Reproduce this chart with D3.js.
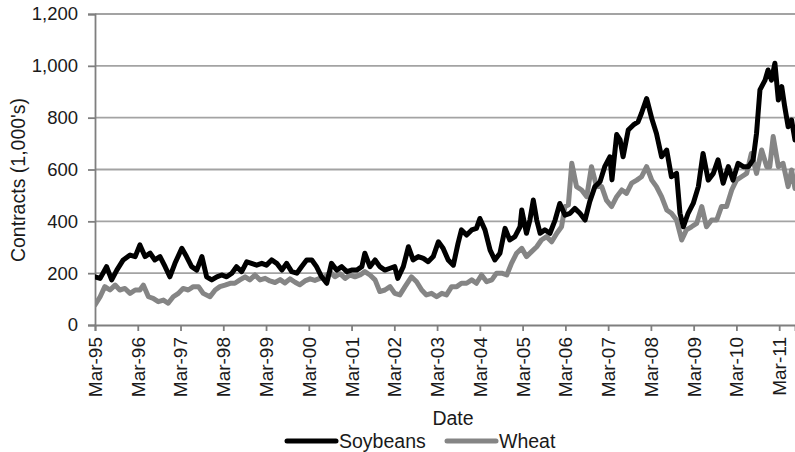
<!DOCTYPE html>
<html>
<head>
<meta charset="utf-8">
<script src="https://cdn.jsdelivr.net/npm/d3@7"></script>
<style>
  html, body { margin: 0; padding: 0; background: #fff; }
  svg { display: block; font-family: "Liberation Sans", Arial, sans-serif; }
</style>
</head>
<body>
<svg id="chart" width="795" height="452"></svg>
<script>
// ---- DATA (decimal year, contracts in 1,000's) ----
const soyDates = [1995.17,1995.29,1995.44,1995.56,1995.68,1995.83,1995.99,1996.11,1996.22,1996.34,1996.46,1996.57,1996.69,1996.81,1996.92,1997.04,1997.20,1997.31,1997.43,1997.55,1997.67,1997.78,1997.90,1998.02,1998.13,1998.25,1998.37,1998.48,1998.60,1998.72,1998.83,1998.95,1999.07,1999.18,1999.30,1999.42,1999.54,1999.65,1999.77,1999.89,2000.00,2000.12,2000.24,2000.35,2000.47,2000.59,2000.70,2000.82,2000.94,2001.06,2001.17,2001.29,2001.41,2001.48,2001.60,2001.72,2001.83,2001.95,2002.07,2002.18,2002.25,2002.38,2002.50,2002.61,2002.73,2002.85,2002.96,2003.08,2003.20,2003.31,2003.43,2003.55,2003.66,2003.74,2003.86,2003.98,2004.09,2004.17,2004.29,2004.41,2004.52,2004.64,2004.76,2004.87,2004.99,2005.11,2005.15,2005.26,2005.34,2005.42,2005.50,2005.58,2005.69,2005.81,2005.93,2006.04,2006.16,2006.28,2006.39,2006.51,2006.63,2006.74,2006.86,2006.98,2007.09,2007.21,2007.26,2007.37,2007.45,2007.52,2007.64,2007.76,2007.87,2007.95,2008.07,2008.19,2008.30,2008.42,2008.54,2008.65,2008.77,2008.85,2008.93,2009.04,2009.16,2009.28,2009.39,2009.51,2009.63,2009.74,2009.86,2009.98,2010.09,2010.21,2010.33,2010.45,2010.56,2010.64,2010.72,2010.84,2010.91,2010.99,2011.07,2011.15,2011.23,2011.30,2011.38,2011.46,2011.54];
const soyValues = [186,180,225,174,212,251,270,264,309,264,277,251,264,225,186,238,296,264,225,212,264,186,174,186,193,186,200,225,206,244,238,231,238,231,251,238,212,238,206,200,225,251,251,225,186,161,238,212,225,206,212,212,225,277,225,251,225,212,219,225,180,225,302,251,264,257,244,264,321,296,251,231,315,367,347,367,373,411,367,289,251,277,373,328,341,379,444,354,405,482,405,354,367,354,405,469,424,431,450,431,405,476,534,553,611,649,560,735,714,649,752,772,784,817,874,797,739,649,675,572,585,431,379,431,469,534,662,559,585,637,547,611,559,624,611,611,637,739,907,945,984,945,1010,868,920,842,765,791,714];

const wheatDates = [1995.17,1995.29,1995.40,1995.52,1995.64,1995.75,1995.87,1995.99,1996.11,1996.22,1996.30,1996.42,1996.53,1996.65,1996.77,1996.88,1997.00,1997.12,1997.23,1997.35,1997.47,1997.59,1997.70,1997.86,1997.98,1998.09,1998.21,1998.33,1998.44,1998.56,1998.68,1998.79,1998.91,1999.03,1999.15,1999.26,1999.38,1999.50,1999.61,1999.73,1999.85,1999.96,2000.08,2000.20,2000.31,2000.43,2000.55,2000.67,2000.78,2000.90,2001.02,2001.13,2001.25,2001.37,2001.48,2001.60,2001.72,2001.83,2001.95,2002.07,2002.18,2002.30,2002.42,2002.57,2002.69,2002.81,2002.92,2003.04,2003.16,2003.28,2003.39,2003.51,2003.63,2003.74,2003.86,2003.98,2004.09,2004.21,2004.33,2004.45,2004.56,2004.68,2004.80,2004.91,2005.03,2005.15,2005.26,2005.38,2005.50,2005.61,2005.73,2005.85,2005.97,2006.08,2006.16,2006.24,2006.32,2006.43,2006.55,2006.67,2006.78,2006.90,2007.02,2007.13,2007.25,2007.37,2007.49,2007.60,2007.72,2007.84,2007.95,2008.07,2008.19,2008.30,2008.42,2008.54,2008.65,2008.77,2008.89,2009.00,2009.12,2009.24,2009.36,2009.47,2009.59,2009.71,2009.82,2009.94,2010.06,2010.17,2010.29,2010.41,2010.52,2010.64,2010.76,2010.88,2010.95,2011.03,2011.15,2011.26,2011.38,2011.46,2011.54];
const wheatValues = [77,109,148,135,154,135,141,122,135,135,154,109,103,90,96,84,109,122,141,135,148,148,122,109,135,148,154,161,161,174,186,174,193,174,180,170,164,175,162,178,165,155,170,178,172,180,186,204,186,198,180,193,186,193,206,193,174,129,135,148,122,116,148,186,167,135,116,122,109,122,116,148,148,161,161,174,161,193,167,174,200,200,193,238,277,296,264,283,302,328,341,321,354,379,457,463,624,534,521,495,611,534,534,482,457,495,521,508,547,559,572,611,559,534,495,444,431,405,328,367,379,392,457,379,405,405,457,457,521,559,572,585,662,585,675,611,611,727,611,624,534,598,527];

const tickYears = [1995.17,1996.17,1997.17,1998.17,1999.17,2000.17,2001.17,2002.17,2003.17,2004.17,2005.17,2006.17,2007.17,2008.17,2009.17,2010.17,2011.17];
const tickLabels = ["Mar-95","Mar-96","Mar-97","Mar-98","Mar-99","Mar-00","Mar-01","Mar-02","Mar-03","Mar-04","Mar-05","Mar-06","Mar-07","Mar-08","Mar-09","Mar-10","Mar-11"];
const yTicks = [0,200,400,600,800,1000,1200];
const seriesNames = ["Soybeans","Wheat"];
const seriesColors = ["#000000","#858585"];

// ---- LAYOUT ----
const svg = d3.select("#chart");
const plotL = 95, plotR = 795, plotT = 14, plotB = 325;

const x = d3.scaleLinear().domain([1995.17, 2011.54]).range([plotL, plotR]);
const y = d3.scaleLinear().domain([0, 1200]).range([plotB, plotT]);

// gridlines
svg.append("g")
  .selectAll("line")
  .data(yTicks.filter(d => d > 0))
  .join("line")
  .attr("x1", plotL).attr("x2", plotR)
  .attr("y1", d => y(d)).attr("y2", d => y(d))
  .attr("stroke", "#a3a3a3").attr("stroke-width", 1.8);

// y axis
const yAxis = svg.append("g")
  .attr("transform", `translate(${plotL},0)`)
  .call(d3.axisLeft(y).tickValues(yTicks).tickSize(7).tickPadding(10).tickFormat(d3.format(",")));
yAxis.select(".domain").attr("stroke", "#7f7f7f").attr("stroke-width", 1.8);
yAxis.selectAll(".tick line").attr("stroke", "#7f7f7f").attr("stroke-width", 1.8);
yAxis.selectAll("text")
  .attr("font-size", "18.5px").attr("fill", "#1a1a1a")
  .attr("font-family", "'Liberation Sans', Arial, sans-serif");

// x axis
const xAxis = svg.append("g")
  .attr("transform", `translate(0,${plotB})`)
  .call(d3.axisBottom(x).tickValues(tickYears).tickSize(6)
    .tickFormat((d, i) => tickLabels[i]));
xAxis.select(".domain").attr("stroke", "#7f7f7f").attr("stroke-width", 1.8);
xAxis.selectAll(".tick line").attr("stroke", "#7f7f7f").attr("stroke-width", 1.8);
xAxis.selectAll("text")
  .attr("font-size", "19px").attr("fill", "#1a1a1a")
  .attr("font-family", "'Liberation Sans', Arial, sans-serif")
  .attr("transform", "rotate(-90)")
  .attr("text-anchor", "end")
  .attr("x", -12).attr("y", 0).attr("dy", "0.34em");

// lines
const series = [
  { name: seriesNames[1], color: seriesColors[1], pts: wheatDates.map((d, i) => [d, wheatValues[i]]) },
  { name: seriesNames[0], color: seriesColors[0], pts: soyDates.map((d, i) => [d, soyValues[i]]) }
];
const line = d3.line().x(d => x(d[0])).y(d => y(d[1]));
svg.append("defs").append("clipPath").attr("id", "clip")
  .append("rect").attr("x", plotL).attr("y", 0).attr("width", plotR - plotL + 5).attr("height", plotB);
svg.append("g").attr("clip-path", "url(#clip)")
  .selectAll("path")
  .data(series)
  .join("path")
  .attr("d", d => line(d.pts))
  .attr("fill", "none")
  .attr("stroke", d => d.color)
  .attr("stroke-width", 5)
  .attr("stroke-linejoin", "round")
  .attr("stroke-linecap", "round");

// axis titles
svg.append("text")
  .attr("x", 453).attr("y", 425)
  .attr("text-anchor", "middle")
  .attr("font-size", "19.5px").attr("fill", "#1a1a1a")
  .text("Date");

svg.append("text")
  .attr("transform", "translate(25,180) rotate(-90)")
  .attr("text-anchor", "middle")
  .attr("font-size", "19.5px").attr("fill", "#1a1a1a")
  .text("Contracts (1,000's)");

// legend
const legendItems = [
  { name: seriesNames[0], color: seriesColors[0], x: 287 },
  { name: seriesNames[1], color: seriesColors[1], x: 447 }
];
const lg = svg.append("g").selectAll("g").data(legendItems).join("g")
  .attr("transform", d => `translate(${d.x},441)`);
lg.append("line").attr("x1", 0).attr("x2", 49).attr("y1", 0).attr("y2", 0)
  .attr("stroke", d => d.color).attr("stroke-width", 5).attr("stroke-linecap", "round");
lg.append("text").attr("x", 52).attr("y", 6.5)
  .attr("font-size", "19.5px").attr("fill", "#1a1a1a")
  .text(d => d.name);
</script>
</body>
</html>
